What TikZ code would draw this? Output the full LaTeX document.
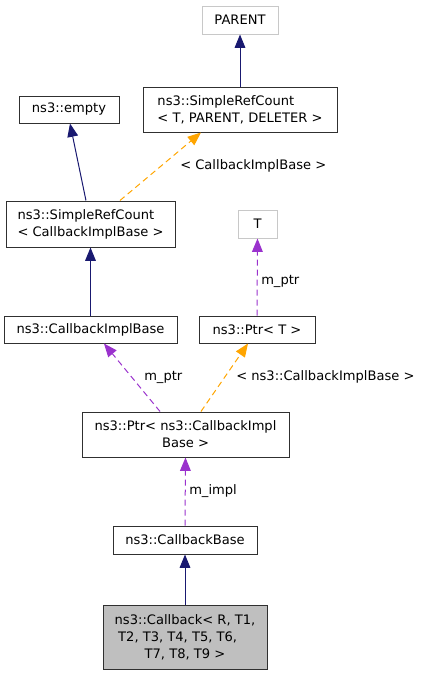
\documentclass[tikz,border=0pt]{standalone}
\usepackage{fontspec}
\setmainfont{DejaVu Sans}
\usetikzlibrary{arrows.meta}
\definecolor{navyedge}{HTML}{191970}
\definecolor{orangeedge}{HTML}{FFA500}
\definecolor{purpleedge}{HTML}{9A32CD}
\definecolor{lightborder}{HTML}{C8C8C8}
\definecolor{cbfill}{HTML}{BFBFBF}
\definecolor{boxborder}{HTML}{303030}
\tikzset{
  box/.style={draw=boxborder, line width=0.75pt, rectangle, inner sep=0pt, font=\fontsize{9.8}{12.75}\selectfont},
  greybox/.style={box, draw=lightborder},
  inh/.style={draw=navyedge, line width=0.75pt, -{Triangle[length=10pt,width=8pt]}},
  tmpl/.style={draw=orangeedge, line width=0.75pt, dash pattern=on 4.5pt off 3pt, -{Triangle[length=10pt,width=8pt]}},
  usage/.style={draw=purpleedge, line width=0.75pt, dash pattern=on 4.5pt off 3pt, -{Triangle[length=10pt,width=8pt]}},
  elabel/.style={anchor=west, inner sep=0pt, text height=7.2pt, text depth=0pt, font=\fontsize{9.8}{12.75}\selectfont}
}
\begin{document}
\begin{tikzpicture}[x=0.75pt,y=-0.75pt]
\useasboundingbox (0,0) rectangle (421,675);
\node[greybox, minimum width=57pt, minimum height=21pt] (parent) at (240,20) {PARENT};
\node[box, minimum width=145.5pt, minimum height=33.75pt, align=left] (srct) at (240,109.5) {ns3::SimpleRefCount\\< T, PARENT, DELETER >};
\node[box, minimum width=75pt, minimum height=20.25pt] (empty) at (69,109.5) {ns3::empty};
\node[box, minimum width=126.75pt, minimum height=34.5pt, align=left] (srcb) at (90.5,224) {ns3::SimpleRefCount\\< CallbackImplBase >};
\node[greybox, minimum width=29.25pt, minimum height=21pt] (tnode) at (257.5,224) {T};
\node[box, minimum width=129.75pt, minimum height=20.25pt] (cib) at (90.5,329.5) {ns3::CallbackImplBase};
\node[box, minimum width=87pt, minimum height=20.25pt] (ptrt) at (257,329.5) {ns3::Ptr< T >};
\node[box, minimum width=155.25pt, minimum height=33.75pt, align=center] (ptrcib) at (185.5,434.5) {ns3::Ptr< ns3::CallbackImpl\\Base >};
\node[box, minimum width=108pt, minimum height=21pt] (cbase) at (185,540) {ns3::CallbackBase};
\node[box, fill=cbfill, minimum width=123pt, minimum height=48pt, align=center] (cb) at (185,637) {ns3::Callback< R, T1,\\T2, T3, T4, T5, T6,\makebox[11pt]{}\\T7, T8, T9 >};

\draw[inh] (srct.north) -- (parent.south);
\draw[inh] ([xshift=-3.4pt]srcb.north) -- ([xshift=0.75pt]empty.south);
\draw[tmpl] ([xshift=22.1pt]srcb.north) -- ([xshift=-29.25pt]srct.south);
\draw[inh] (cib.north) -- (srcb.south);
\draw[usage] (ptrt.north) -- (tnode.south);
\draw[usage] ([xshift=-19.1pt]ptrcib.north) -- ([xshift=10.1pt]cib.south);
\draw[tmpl] ([xshift=11.6pt]ptrcib.north) -- ([xshift=-6.75pt]ptrt.south);
\draw[usage] (cbase.north) -- (ptrcib.south);
\draw[inh] (cb.north) -- (cbase.south);

\node[elabel] (l1) at (180,165) {< CallbackImplBase >};
\node[elabel] (l2) at (261,280) {m\_ptr};
\node[elabel] (l3) at (144,376) {m\_ptr};
\node[elabel] (l4) at (236,376) {< ns3::CallbackImplBase >};
\node[elabel] (l5) at (189,490) {m\_impl};
\end{tikzpicture}
\end{document}
